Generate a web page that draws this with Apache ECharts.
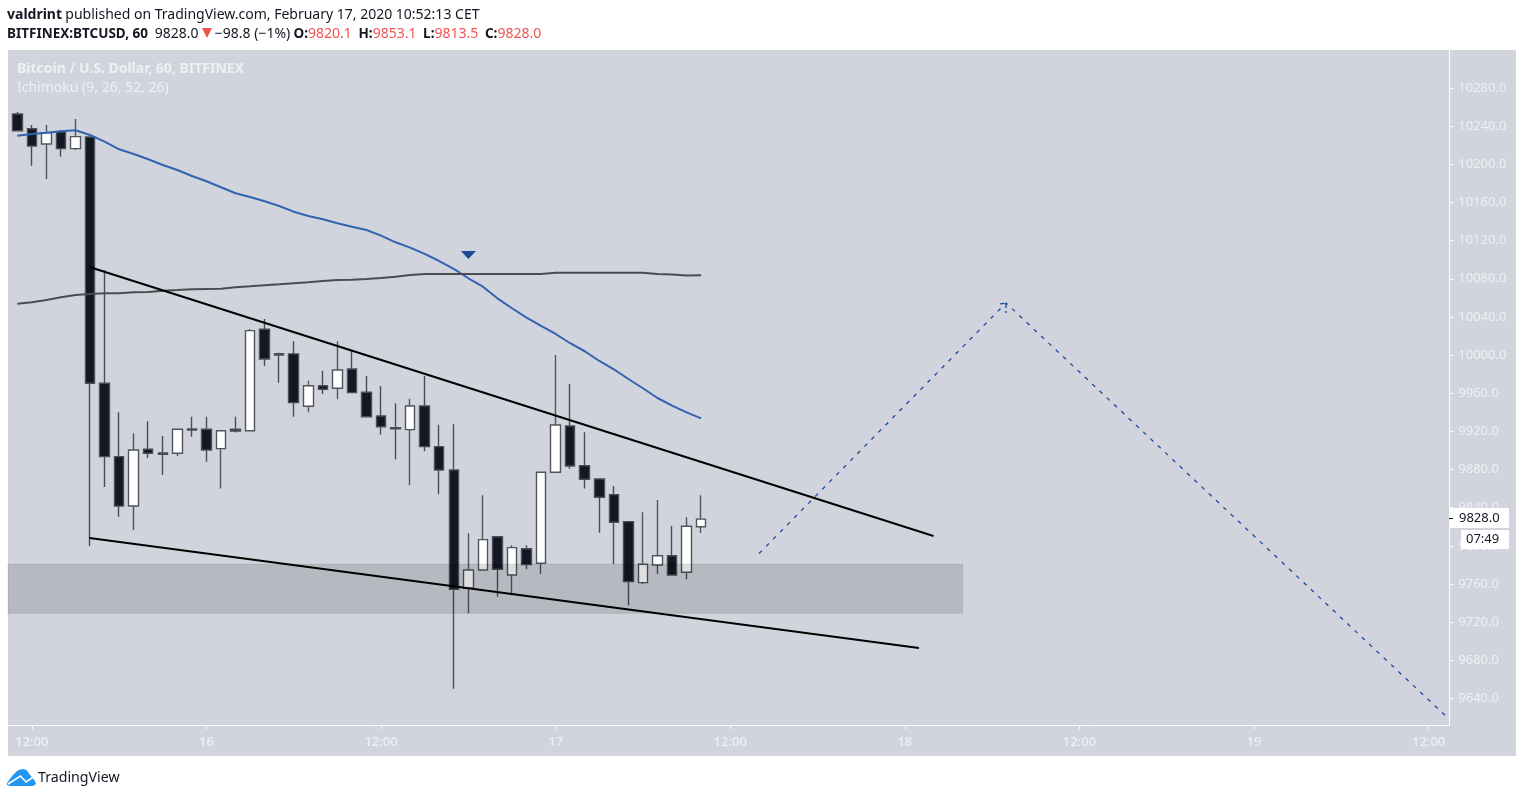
<!DOCTYPE html>
<html>
<head>
<meta charset="utf-8">
<style>html,body{margin:0;padding:0;background:#fff}#c{width:1524px;height:798px}</style>
<script src="https://cdn.jsdelivr.net/npm/echarts@6/dist/echarts.min.js"></script>
</head>
<body>
<div id="c"></div>
<script>
// Hourly candles, x = hours after the first candle
const candleOpen  = [10252.7,10237.3,10221.3,10233.9,10216.4,10228.6,9970.4,9893.5,9841.8,9901.2,9897.4,9897.1,9922.5,9922.2,9901.9,9922.2,9920.7,10027,10001.5,10001.2,9946.3,9967.9,9965.2,9985.4,9961,9936.2,9923.9,9921.8,9946.6,9904,9879.5,9755.5,9774.7,9809.6,9769.5,9797,9781.7,9877.1,9925.7,9884.1,9870.1,9853.7,9825.4,9761.4,9780,9789.7,9772.3,9820.1];
const candleClose = [10235.2,10219.2,10233.1,10216.4,10229,9970.4,9893.5,9841.8,9900.5,9897.1,9896,9922.2,9921.5,9900.5,9920.7,9920.4,10025.6,9995.9,10000.1,9950.1,9967.9,9964.1,9984.4,9960.6,9935.4,9924.9,9922.8,9946.6,9904,9879.5,9754.5,9774.7,9806.5,9775.5,9798.1,9780.3,9877.1,9926.7,9883.7,9869.8,9850.9,9824.7,9762.5,9780.7,9789.7,9769.5,9820.5,9828];
const candleLow   = [10234.9,10198.5,10184.6,10208,10215,9799.9,9861.7,9830.6,9816.7,9892.1,9874.3,9894.2,9914.5,9888.2,9860,9918.7,9920.4,9988.6,9971.1,9935.4,9940,9959.2,9953.7,9960.6,9935.4,9916.6,9890.8,9863.5,9899.2,9854.1,9650.3,9729.3,9774.7,9746.7,9748.2,9775.5,9770.5,9877.1,9880.9,9860,9813.8,9781,9737.7,9759.7,9770.5,9769.5,9765,9813.5];
const candleHigh  = [10254.8,10241.2,10241.2,10236,10247.5,10229,10089.2,9940,9918,9930.6,9915.2,9922.2,9935.4,9935.4,9920.7,9935.4,10027.4,10037.8,10002.5,10014.5,9973.2,9983.6,10014.5,10004.6,9978.1,9967.6,9949.5,9954.3,9978.1,9927,9927.5,9813.2,9853,9809.6,9800.6,9800.6,9877.1,10000.1,9969.7,9919.1,9870.1,9862.8,9825.4,9835.2,9848.1,9820.8,9830,9853.1];
const fastLine = [10230,10231.8,10233.1,10234.6,10235.7,10230.7,10223.7,10215.7,10210.8,10205.3,10199.3,10194,10187.7,10182.2,10175.9,10169.6,10165.7,10161.2,10156.3,10150.3,10145.8,10142.4,10138.2,10134.6,10131.1,10125.2,10118.2,10112.6,10106,10098.6,10090.3,10080.5,10071.7,10059.5,10049.1,10039.2,10030.5,10022.1,10012.4,10004,9993.8,9985.1,9974.9,9965.2,9955,9947,9940,9933.7];
const slowLine = [10053.9,10055.3,10057.8,10060.6,10063,10064,10064.8,10064.8,10065.8,10066.1,10067.5,10068.2,10069,10069.3,10069.6,10071.1,10072.1,10073.2,10074.2,10075.3,10076.3,10077.7,10078.7,10079,10079.8,10080.8,10082.2,10084,10085,10085,10085,10085,10085,10085,10085,10085,10085,10086.4,10086.4,10086.4,10086.4,10086.4,10086.4,10086.4,10085,10084.5,10083.4,10083.6];
const upperTrend = [[4.96,10092.4],[62.97,9810.4]];
const lowerTrend = [[4.96,9808.3],[61.97,9693]];
const projection = [[50.98,9792],[67.95,10054.6],[98.3,9619.9]];
const arrowHead  = [[67.55,10053.6],[67.95,10054.6],[67.95,10044.1]];
const zoneHours  = [-0.639,64.97];
const zonePrices = [9780.7,9729.3];
const markerPoint = [[31.0,10105]];
const yTicks = [9640,9680,9720,9760,9800,9840,9880,9920,9960,10000,10040,10080,10120,10160,10200,10240,10280];
const xTicks = [1,13,25,37,49,61,73,85,97];
const xTickLabels = ['12:00','16','12:00','17','12:00','18','12:00','19','12:00'];

const FONT = '"Noto Sans", sans-serif';
const pane = '#d1d4dc', faint = '#eef0f4';
const pairs = a => a.map((v,i)=>[i,v]);
const lineStyleSeries = (name,data,color,width,type,z) => ({
  name,type:'line',data,z,showSymbol:false,symbol:'none',silent:true,
  lineStyle:{color,width,type,cap:'butt'}
});

const chart = echarts.init(document.getElementById('c'),null,{renderer:'canvas'});
chart.setOption({
  animation:false,
  backgroundColor:'#ffffff',
  grid:{left:8,top:50,width:1441.3,height:675,containLabel:false},
  xAxis:{type:'value',min:-0.639,max:98.42,splitLine:{show:false},
    axisLine:{show:true,onZero:false,lineStyle:{color:'#ffffff',width:1}},
    axisTick:{show:true,length:4,customValues:xTicks,lineStyle:{color:'#ffffff'}},
    axisLabel:{customValues:xTicks,margin:11,color:faint,fontFamily:FONT,fontSize:13,fontWeight:500,
      formatter:v=>xTickLabels[Math.round((v-1)/12)]}},
  yAxis:{type:'value',position:'right',min:9612.2,max:10319.8,scale:true,splitLine:{show:false},
    axisLine:{show:true,onZero:false,lineStyle:{color:'#ffffff',width:1}},
    axisTick:{show:true,length:4,customValues:yTicks,lineStyle:{color:'#ffffff'}},
    axisLabel:{customValues:yTicks,margin:9,padding:[2,0,0,0],color:faint,fontFamily:FONT,fontSize:13,
      formatter:v=>v.toFixed(1)}},
  series:[
    {name:'BTCUSD',type:'candlestick',z:3,barWidth:10,silent:true,
      data:candleOpen.map((o,i)=>[i,o,candleClose[i],candleLow[i],candleHigh[i]]),
      itemStyle:{color:'#ffffff',color0:'#131722',borderColor:'#52545e',borderColor0:'#4a4c57',borderWidth:1.4}},
    {name:'zone',type:'line',data:[],z:4,silent:true,
      markArea:{silent:true,z:4,itemStyle:{color:'rgba(0,0,0,0.125)',borderColor:'rgba(0,0,0,0.1)',borderWidth:1,opacity:1},
        data:[[{coord:[zoneHours[0],zonePrices[0]]},{coord:[zoneHours[1],zonePrices[1]]}]]}},
    lineStyleSeries('fast',pairs(fastLine),'#3163b0',2,'solid',5),
    lineStyleSeries('slow',pairs(slowLine),'#4b4c50',2,'solid',5),
    lineStyleSeries('upper',upperTrend,'#000000',2,'solid',6),
    lineStyleSeries('lower',lowerTrend,'#000000',2,'solid',6),
    lineStyleSeries('projection',projection,'#1c4a9c',1.3,[4,6],6),
    lineStyleSeries('arrow',arrowHead,'#1c4a9c',1.3,[4,3],6),
    {name:'marker',type:'scatter',data:markerPoint,z:7,silent:true,symbol:'triangle',symbolRotate:180,symbolSize:[15,8],
      itemStyle:{color:'#1c4b96',opacity:1}}
  ],
  graphic:[
    {type:'rect',z:-10,silent:true,shape:{x:8,y:50,width:1508,height:706},style:{fill:pane}},
    {type:'text',z:10,silent:true,x:17,y:62,style:{text:'Bitcoin / U.S. Dollar, 60, BITFINEX',fill:faint,font:'bold 14px '+FONT}},
    {type:'text',z:10,silent:true,x:17,y:81,style:{text:'Ichimoku (9, 26, 52, 26)',fill:faint,font:'14px '+FONT}},
    {type:'text',z:10,silent:true,x:7,y:8,style:{
      text:'{b|valdrint} {n|published on TradingView.com, February 17, 2020 10:52:13 CET}',
      rich:{b:{font:'bold 14px '+FONT,fill:'#131722'},n:{font:'14px '+FONT,fill:'#131722'}}}},
    {type:'text',z:10,silent:true,x:7,y:27,style:{
      text:'{b|BITFINEX:BTCUSD, 60}  {n|9828.0}{t| } {n|−98.8 (−1%)} {b|O:}{r|9820.1}  {b|H:}{r|9853.1}  {b|L:}{r|9813.5}  {b|C:}{r|9828.0}',
      rich:{b:{font:'bold 13.5px '+FONT,fill:'#131722'},n:{font:'14px '+FONT,fill:'#131722'},r:{font:'14px '+FONT,fill:'#ef5350'},t:{font:'14px '+FONT,width:13}}}},
    {type:'polygon',z:10,silent:true,shape:{points:[[202,28],[212,28],[207,38]]},style:{fill:'#ef5350'}},
    {type:'rect',z:10,silent:true,shape:{x:1449,y:508,width:60,height:20},style:{fill:'#ffffff'}},
    {type:'rect',z:11,silent:true,shape:{x:1449,y:518,width:4,height:1},style:{fill:'#131722'}},
    {type:'text',z:11,silent:true,x:1459,y:512,style:{text:'9828.0',fill:'#131722',font:'13px '+FONT}},
    {type:'rect',z:10,silent:true,shape:{x:1461,y:530,width:48,height:19},style:{fill:'#ffffff'}},
    {type:'text',z:11,silent:true,x:1466,y:533,style:{text:'07:49',fill:'#131722',font:'13px '+FONT}},
    {type:'polygon',z:10,silent:true,shape:{points:[[7,783],[13,775],[17,771],[20,769.5],[24,769],[27,770.5],[30,775],[35,781],[36,784],[33,786],[10,786],[7,785]]},style:{fill:'#2196f3'}},
    {type:'polyline',z:11,silent:true,shape:{points:[[8,784],[20.5,776],[26,782],[35,776]]},style:{stroke:'#ffffff',lineWidth:1.6,fill:'none'}},
    {type:'text',z:10,silent:true,x:38,y:771,style:{text:'TradingView',fill:'#131722',font:'14.2px '+FONT}}
  ]
});
</script>
</body>
</html>
